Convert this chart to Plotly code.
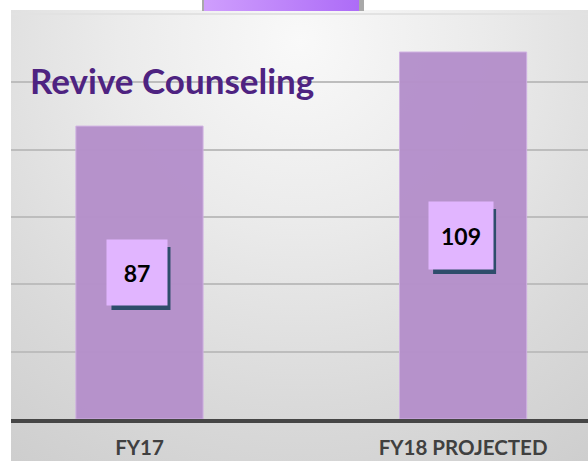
import base64
import plotly.graph_objects as go

# ---- data ----
categories = ["FY17", "FY18 PROJECTED"]
values = [87, 109]
title_text = "Revive Counseling"
grid_vals = [20, 40, 60, 80, 100]

W, H = 588, 461
ML, MR, MT, MB = 11, 0, 15, 42
PW, PH = W - ML - MR, H - MT - MB

bar_color = "#B590CB"
box_color = "#E1B5FF"
shadow_color = "#2E4D6B"

# ---- background decoration (gradient panel + top tab) as SVG ----
svg = f"""<svg xmlns='http://www.w3.org/2000/svg' width='{W}' height='{H}' viewBox='0 0 {W} {H}'>
<defs>
<radialGradient id='bg' gradientUnits='userSpaceOnUse' cx='300' cy='40' r='520' fx='300' fy='40'>
<stop offset='0' stop-color='#f9f9f9'/>
<stop offset='0.35' stop-color='#ebebeb'/>
<stop offset='0.7' stop-color='#dadada'/>
<stop offset='1' stop-color='#cdcdcd'/>
</radialGradient>
<linearGradient id='tab' x1='0' y1='0' x2='1' y2='0'>
<stop offset='0' stop-color='#cf9efd'/>
<stop offset='1' stop-color='#ad6cf7'/>
</linearGradient>
</defs>
<rect x='0' y='0' width='{W}' height='{H}' fill='#ffffff'/>
<rect x='11' y='10' width='{W-11}' height='{H-10}' fill='url(#bg)'/>
<rect x='11' y='13' width='{W-11}' height='2' fill='#e2e2e2'/>
<rect x='202' y='0' width='162' height='11' fill='#a9a9a9'/>
<rect x='204' y='0' width='155' height='11' fill='url(#tab)'/>
</svg>"""
src = "data:image/svg+xml;base64," + base64.b64encode(svg.encode()).decode()

fig = go.Figure()
fig.add_trace(go.Bar(
    x=categories, y=values, width=0.393,
    marker=dict(color=bar_color, line=dict(color="#CFB0E2", width=1)),
    opacity=0.97, hoverinfo="skip",
))

annotations = []
shapes = []
for i, (c, v) in enumerate(zip(categories, values)):
    t = str(v)
    bw = 50 + 4 * len(t)
    bh = 63 + (len(t) - 2) * 2
    # drop shadow of the label box (pixel-sized, anchored at the data point)
    shapes.append(dict(
        type="rect", xref="x", yref="y", xsizemode="pixel", ysizemode="pixel",
        xanchor=i, yanchor=v / 2,
        x0=-bw / 2 + 1, x1=bw / 2 + 2, y0=-bh / 2 - 6, y1=bh / 2 - 6,
        fillcolor=shadow_color, line=dict(width=0), layer="above",
    ))
    annotations.append(dict(
        x=c, y=v / 2, xref="x", yref="y", text=f"<b>{t}</b>", showarrow=False,
        font=dict(family="Lato", size=23, color="#000000"),
        bgcolor=box_color, width=bw, height=bh, xshift=-2,
    ))

annotations.append(dict(
    x=(28 - ML) / PW, y=1 - (57 - MT) / PH, xref="paper", yref="paper",
    xanchor="left", yanchor="top", showarrow=False,
    text=f"<b>{title_text}</b>",
    font=dict(family="Lato", size=35, color="#4E2381"),
))

fig.update_layout(
    width=W, height=H,
    margin=dict(l=ML, r=MR, t=MT, b=MB, pad=0),
    paper_bgcolor="rgba(0,0,0,0)", plot_bgcolor="rgba(0,0,0,0)",
    showlegend=False,
    annotations=annotations,
    shapes=shapes,
    images=[dict(
        source=src, xref="paper", yref="paper",
        x=-ML / PW, y=1 + MT / PH, sizex=W / PW, sizey=H / PH,
        xanchor="left", yanchor="top", sizing="stretch", layer="below",
    )],
    xaxis=dict(
        range=[-0.397, 1.386], showgrid=False, zeroline=False,
        showline=True, linecolor="#464646", linewidth=3.5,
        ticks="outside", ticklen=8, tickcolor="rgba(0,0,0,0)",
        tickfont=dict(family="Lato", size=20.5, color="#404040"),
        tickprefix="<b>", ticksuffix="</b>",
    ),
    yaxis=dict(
        range=[0, 120], tickvals=grid_vals, showticklabels=False,
        showgrid=True, gridcolor="#bdbdbd", gridwidth=2, zeroline=False,
    ),
)

fig.write_html(
    "out.html",
    config={"displayModeBar": False},
    post_script="document.body.style.margin='0';document.body.style.overflow='hidden';",
)
